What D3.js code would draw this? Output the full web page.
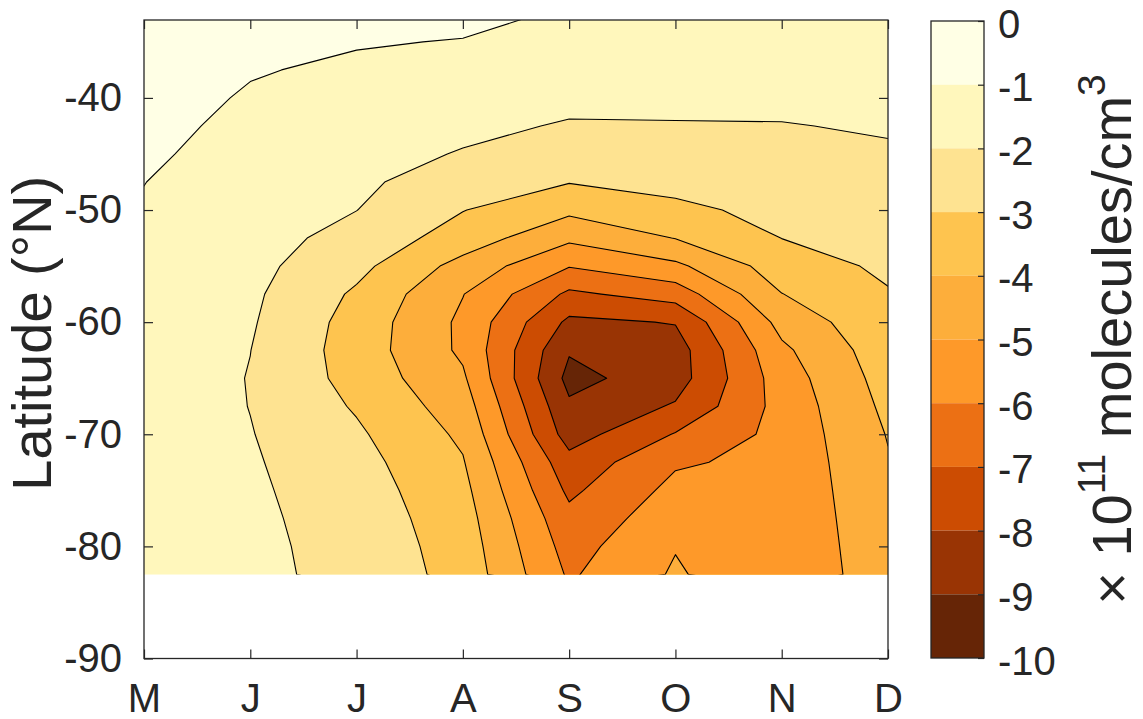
<!DOCTYPE html>
<html>
<head>
<meta charset="utf-8">
<script src="https://cdn.jsdelivr.net/npm/d3@7"></script>
<style>
  html, body { margin: 0; padding: 0; background: #ffffff; }
  svg text { font-family: "Liberation Sans", Arial, Helvetica, sans-serif; fill: #262626; }
</style>
</head>
<body>
<svg id="chart" width="1143" height="719"></svg>
<script>
// ---------------- DATA ----------------
const monthLabels = ["M", "J", "J", "A", "S", "O", "N", "D"];
// latitude rows of the data grid (degrees N), south to north
const latitudes = [-82.5, -80, -77.5, -75, -72.5, -70, -67.5, -65, -62.5, -60, -57.5,
                   -55, -52.5, -50, -47.5, -45, -42.5, -40, -37.5, -35, -32.5];
// values (x 10^11 molecules/cm^3) per month column, same order as latitudes
const colMay = [-1.24, -1.25, -1.26, -1.27, -1.28, -1.29, -1.30, -1.30, -1.28, -1.26, -1.23,
                -1.19, -1.14, -1.06, -0.99, -0.88, -0.79, -0.70, -0.62, -0.54, -0.45];
const colJun = [-1.76, -1.78, -1.81, -1.85, -1.90, -1.96, -2.02, -2.04, -1.99, -1.90, -1.82,
                -1.72, -1.62, -1.51, -1.40, -1.29, -1.18, -1.07, -0.95, -0.84, -0.72];
const colJul = [-2.31, -2.35, -2.42, -2.52, -2.65, -2.85, -3.10, -3.35, -3.45, -3.38, -3.15,
                -2.72, -2.33, -1.99, -1.82, -1.65, -1.47, -1.30, -1.12, -0.95, -0.82];
const colAug = [-3.35, -3.44, -3.56, -3.72, -3.93, -4.18, -4.50, -4.85, -5.18, -5.20, -4.97,
                -4.35, -3.45, -2.97, -2.50, -2.06, -1.78, -1.53, -1.28, -1.03, -0.80];
const colSep = [-6.13, -6.40, -6.72, -7.20, -7.66, -8.45, -8.84, -9.30, -8.91, -8.21, -7.19,
                -5.95, -4.80, -3.78, -2.96, -2.52, -2.08, -1.76, -1.50, -1.28, -1.08];
const colOct = [-4.88, -5.05, -5.40, -5.72, -6.12, -6.94, -7.90, -8.45, -8.45, -7.95, -6.56,
                -5.21, -3.97, -3.19, -2.74, -2.40, -2.06, -1.75, -1.55, -1.36, -1.18];
const colNov = [-5.87, -5.85, -5.82, -5.78, -5.74, -5.70, -5.65, -5.50, -5.20, -4.66, -4.02,
                -3.50, -2.99, -2.76, -2.52, -2.28, -2.04, -1.77, -1.58, -1.40, -1.22];
const colDec = [-4.36, -4.29, -4.22, -4.15, -4.07, -3.95, -3.77, -3.59, -3.42, -3.24, -3.07,
                -2.82, -2.64, -2.49, -2.30, -2.11, -1.91, -1.75, -1.60, -1.45, -1.30];
// contour levels and band colours (band i lies between levels[i] and levels[i+1])
const levels = [0, -1, -2, -3, -4, -5, -6, -7, -8, -9, -10];
const bandColors = ["#ffffe5", "#fff7bc", "#fee391", "#fec44f", "#fdae3b",
                    "#fe9929", "#ec7014", "#cc4c02", "#993404", "#662506"];
const yTicks = [-90, -80, -70, -60, -50, -40];
const yLimits = [-90, -33.05];
const yLabel = "Latitude (°N)";

// ---------------- LAYOUT ----------------
const svg = d3.select("#chart");
const P = { left: 144, right: 888, top: 20, bottom: 658.5 };
const axisColor = "#262626";
const tickFont = 40;

const x = d3.scaleLinear().domain([0, monthLabels.length - 1]).range([P.left, P.right]);
const y = d3.scaleLinear().domain(yLimits).range([P.bottom, P.top]);

// ---------------- CONTOUR GRID ----------------
const columns = [colMay, colJun, colJul, colAug, colSep, colOct, colNov, colDec];
const n = columns.length, m = latitudes.length;
const grid = new Array(n * m);
for (let r = 0; r < m; r++) {
  const li = m - 1 - r;              // row 0 = northernmost latitude
  for (let c = 0; c < n; c++) grid[r * n + c] = -columns[c][li];
}
const latNorth = latitudes[m - 1];
const dLat = latitudes[1] - latitudes[0];
const thresholds = levels.slice(1, levels.length - 1).map(v => -v);
const contours = d3.contours().size([n, m]).thresholds(thresholds)(grid);

const proj = d3.geoTransform({
  point: function (gx, gy) {
    this.stream.point(x(gx - 0.5), y(latNorth - (gy - 0.5) * dLat));
  }
});
const path = d3.geoPath(proj);

const defs = svg.append("defs");
defs.append("clipPath").attr("id", "dataClip")
  .append("rect")
  .attr("x", x(0)).attr("y", P.top)
  .attr("width", x(n - 1) - x(0))
  .attr("height", y(latitudes[0]) - P.top);

const gData = svg.append("g").attr("clip-path", "url(#dataClip)");
gData.append("rect")
  .attr("x", x(0)).attr("y", P.top)
  .attr("width", x(n - 1) - x(0))
  .attr("height", y(latitudes[0]) - P.top)
  .attr("fill", bandColors[0]);

gData.selectAll("path.band").data(contours).join("path")
  .attr("class", "band")
  .attr("d", path)
  .attr("fill", (d, i) => bandColors[i + 1])
  .attr("fill-rule", "evenodd")
  .attr("stroke", "none");

gData.selectAll("path.line").data(contours).join("path")
  .attr("class", "line")
  .attr("d", path)
  .attr("fill", "none")
  .attr("stroke", "#000")
  .attr("stroke-width", 1.1)
  .attr("stroke-linejoin", "round");

// ---------------- AXES ----------------
const fmt = d => String(d);
const tickLen = 9;

const gLeft = svg.append("g").attr("transform", `translate(${P.left},0)`)
  .call(d3.axisLeft(y).tickValues(yTicks).tickFormat(fmt).tickSize(-tickLen).tickSizeOuter(0).tickPadding(22));
const gRight = svg.append("g").attr("transform", `translate(${P.right},0)`)
  .call(d3.axisRight(y).tickValues(yTicks).tickFormat("").tickSize(-tickLen).tickSizeOuter(0));
const gBottom = svg.append("g").attr("transform", `translate(0,${P.bottom})`)
  .call(d3.axisBottom(x).tickValues(d3.range(monthLabels.length)).tickFormat(i => monthLabels[i])
        .tickSize(-tickLen).tickSizeOuter(0).tickPadding(25));
const gTop = svg.append("g").attr("transform", `translate(0,${P.top})`)
  .call(d3.axisTop(x).tickValues(d3.range(monthLabels.length)).tickFormat("").tickSize(-tickLen).tickSizeOuter(0));

[gLeft, gRight, gBottom, gTop].forEach(g => {
  g.select(".domain").remove();
  g.selectAll(".tick line").attr("stroke", axisColor).attr("stroke-width", 1.2);
  g.selectAll(".tick text").attr("font-size", tickFont).attr("fill", axisColor)
    .style("font-family", '"Liberation Sans", Arial, sans-serif');
});

svg.append("rect")
  .attr("x", P.left).attr("y", P.top)
  .attr("width", P.right - P.left).attr("height", P.bottom - P.top)
  .attr("fill", "none").attr("stroke", axisColor).attr("stroke-width", 1.3);

svg.append("text")
  .attr("transform", `translate(51,${(P.top + P.bottom) / 2 - 6}) rotate(-90)`)
  .attr("text-anchor", "middle")
  .attr("font-size", 56)
  .text(yLabel);

// ---------------- COLORBAR ----------------
const CB = { left: 931, right: 984, top: 21, bottom: 658 };
const cb = d3.scaleLinear().domain([levels[levels.length - 1], levels[0]]).range([CB.bottom, CB.top]);
const gCb = svg.append("g");
gCb.selectAll("rect.cband").data(bandColors).join("rect")
  .attr("class", "cband")
  .attr("x", CB.left)
  .attr("width", CB.right - CB.left)
  .attr("y", (d, i) => cb(levels[i]))
  .attr("height", (d, i) => cb(levels[i + 1]) - cb(levels[i]))
  .attr("fill", d => d);

const gCbAxis = svg.append("g").attr("transform", `translate(${CB.right},0)`)
  .call(d3.axisRight(cb).tickValues(levels).tickFormat(fmt).tickSize(-6).tickSizeOuter(0).tickPadding(14));
gCbAxis.select(".domain").remove();
gCbAxis.selectAll(".tick line").attr("stroke", axisColor).attr("stroke-width", 1.2);
gCbAxis.selectAll(".tick text").attr("font-size", tickFont).attr("fill", axisColor)
  .attr("dy", "0.40em")
  .style("font-family", '"Liberation Sans", Arial, sans-serif');

svg.append("rect")
  .attr("x", CB.left).attr("y", CB.top)
  .attr("width", CB.right - CB.left).attr("height", CB.bottom - CB.top)
  .attr("fill", "none").attr("stroke", axisColor).attr("stroke-width", 1.3);

const cbLabel = svg.append("text")
  .attr("transform", `translate(1131,${(CB.top + CB.bottom) / 2}) rotate(-90)`)
  .attr("text-anchor", "middle")
  .attr("font-size", 56);
cbLabel.append("tspan").text("× 10");
cbLabel.append("tspan").attr("font-size", 39).attr("dy", -26).text("11");
cbLabel.append("tspan").attr("dy", 26).text(" molecules/cm");
cbLabel.append("tspan").attr("font-size", 39).attr("dy", -26).text("3");
</script>
</body>
</html>
